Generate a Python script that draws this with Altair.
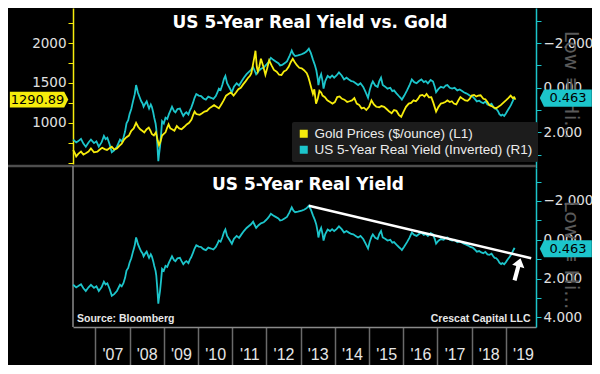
import altair as alt
import pandas as pd

# ---------------- data ----------------
yield_years = [
    2006.35, 2006.44, 2006.49, 2006.58, 2006.65, 2006.72, 2006.80, 2006.87, 2006.96, 2007.03,
    2007.10, 2007.18, 2007.25, 2007.30, 2007.35, 2007.42, 2007.48, 2007.55, 2007.63, 2007.72,
    2007.77, 2007.82, 2007.87, 2007.91, 2007.96, 2008.00, 2008.05, 2008.10, 2008.15, 2008.19,
    2008.22, 2008.24, 2008.30, 2008.34, 2008.38, 2008.41, 2008.46, 2008.50, 2008.54, 2008.57,
    2008.62, 2008.65, 2008.69, 2008.72, 2008.76, 2008.78, 2008.81, 2008.84, 2008.86, 2008.89,
    2008.92, 2008.95, 2009.00, 2009.05, 2009.10, 2009.15, 2009.20, 2009.24, 2009.30, 2009.34,
    2009.40, 2009.47, 2009.52, 2009.57, 2009.62, 2009.66, 2009.72, 2009.76, 2009.80, 2009.85,
    2009.90, 2009.95, 2010.02, 2010.09, 2010.16, 2010.23, 2010.30, 2010.38, 2010.45, 2010.52,
    2010.57, 2010.61, 2010.66, 2010.71, 2010.76, 2010.80, 2010.85, 2010.92, 2010.99, 2011.05,
    2011.13, 2011.20, 2011.27, 2011.34, 2011.42, 2011.48, 2011.55, 2011.61, 2011.66, 2011.70,
    2011.77, 2011.84, 2011.92, 2011.99, 2012.06, 2012.13, 2012.20, 2012.27, 2012.35, 2012.40,
    2012.46, 2012.53, 2012.60, 2012.67, 2012.74, 2012.79, 2012.84, 2012.92, 2013.03, 2013.10,
    2013.17, 2013.24, 2013.30, 2013.36, 2013.42, 2013.46, 2013.50, 2013.52, 2013.56, 2013.60,
    2013.64, 2013.67, 2013.72, 2013.79, 2013.86, 2013.92, 2013.98, 2014.05, 2014.12, 2014.20,
    2014.27, 2014.34, 2014.41, 2014.48, 2014.54, 2014.61, 2014.68, 2014.75, 2014.83, 2014.90,
    2014.97, 2015.02, 2015.07, 2015.11, 2015.18, 2015.25, 2015.30, 2015.35, 2015.40, 2015.47,
    2015.54, 2015.62, 2015.68, 2015.73, 2015.80, 2015.87, 2015.92, 2015.96, 2016.03, 2016.11,
    2016.18, 2016.25, 2016.32, 2016.39, 2016.46, 2016.53, 2016.60, 2016.66, 2016.72, 2016.80,
    2016.87, 2016.92, 2016.96, 2017.03, 2017.10, 2017.18, 2017.24, 2017.29, 2017.36, 2017.43,
    2017.50, 2017.58, 2017.65, 2017.72, 2017.77, 2017.84, 2017.90, 2017.96, 2018.03, 2018.09,
    2018.15, 2018.22, 2018.28, 2018.34, 2018.40, 2018.46, 2018.52, 2018.58, 2018.63, 2018.67,
    2018.72, 2018.77, 2018.81, 2018.86, 2018.90, 2018.95, 2019.00, 2019.05, 2019.10, 2019.15,
    2019.20, 2019.24, 2019.27,
]
yield_vals = [
    2.32, 2.45, 2.40, 2.29, 2.50, 2.64, 2.45, 2.32, 2.48, 2.40,
    2.64, 2.45, 2.16, 2.30, 2.24, 2.55, 2.89, 2.80, 2.64, 2.32,
    2.40, 2.24, 1.95, 1.59, 1.45, 1.18, 0.95, 0.61, 0.30, -0.12,
    0.05, 0.20, 0.45, 0.61, 0.70, 0.85, 0.70, 0.61, 0.80, 0.93,
    0.75, 0.85, 1.10, 1.34, 1.60, 1.83, 2.50, 3.29, 3.00, 2.64,
    2.10, 1.50, 1.60, 1.34, 1.40, 1.18, 1.00, 0.85, 1.05, 1.10,
    0.95, 0.93, 1.10, 1.26, 1.15, 1.10, 1.20, 1.02, 0.90, 0.69,
    0.45, 0.28, 0.35, 0.37, 0.48, 0.53, 0.40, 0.45, 0.50, 0.37,
    0.20, 0.04, 0.10, -0.12, -0.40, -0.53, -0.20, 0.00, 0.20, -0.05,
    -0.20, -0.10, -0.28, -0.45, -0.61, -0.70, -0.80, -0.93, -0.75, -0.61,
    -0.75, -0.85, -0.90, -1.02, -1.15, -1.34, -1.25, -1.18, -1.10, -1.00,
    -1.02, -1.10, -1.18, -1.40, -1.67, -1.50, -1.42, -1.45, -1.50, -1.55,
    -1.62, -1.75, -1.55, -1.26, -1.00, -0.77, -0.40, -0.12, -0.45, -0.61,
    -0.30, 0.04, -0.30, -0.53, -0.45, -0.55, -0.45, -0.55, -0.69, -0.55,
    -0.37, -0.45, -0.37, -0.30, -0.28, -0.20, -0.12, -0.20, -0.04, 0.20,
    0.45, 0.10, -0.15, -0.28, -0.10, -0.04, -0.30, -0.45, -0.12, -0.05,
    0.04, 0.00, 0.15, 0.12, 0.25, 0.37, 0.45, 0.53, 0.35, 0.12,
    -0.10, -0.37, -0.25, -0.20, -0.30, -0.37, -0.25, -0.30, -0.20, -0.35,
    -0.28, -0.05, 0.20, 0.05, -0.04, 0.00, -0.10, -0.12, 0.00, 0.04,
    0.00, 0.12, 0.08, 0.15, 0.20, 0.25, 0.30, 0.37, 0.40, 0.50,
    0.61, 0.58, 0.65, 0.69, 0.62, 0.75, 0.77, 0.72, 0.85, 0.93,
    0.95, 1.05, 1.18, 1.25, 1.20, 1.26, 1.15, 1.02, 0.90, 0.77,
    0.60, 0.45, 0.463,
]

gold_years = [
    2006.35, 2006.40, 2006.44, 2006.50, 2006.58, 2006.65, 2006.72, 2006.80, 2006.87, 2006.96,
    2007.06, 2007.13, 2007.20, 2007.27, 2007.34, 2007.41, 2007.48, 2007.55, 2007.63, 2007.70,
    2007.77, 2007.84, 2007.91, 2007.98, 2008.05, 2008.12, 2008.19, 2008.25, 2008.31, 2008.37,
    2008.43, 2008.50, 2008.56, 2008.61, 2008.65, 2008.71, 2008.77, 2008.82, 2008.86, 2008.90,
    2008.95, 2009.00, 2009.05, 2009.10, 2009.14, 2009.19, 2009.24, 2009.31, 2009.38, 2009.45,
    2009.52, 2009.60, 2009.67, 2009.74, 2009.81, 2009.86, 2009.90, 2009.95, 2010.05, 2010.12,
    2010.19, 2010.26, 2010.33, 2010.40, 2010.47, 2010.54, 2010.61, 2010.68, 2010.75, 2010.82,
    2010.89, 2010.96, 2011.04, 2011.11, 2011.18, 2011.25, 2011.32, 2011.39, 2011.46, 2011.52,
    2011.56, 2011.62, 2011.66, 2011.68, 2011.72, 2011.75, 2011.79, 2011.84, 2011.90, 2011.97,
    2012.02, 2012.08, 2012.15, 2012.22, 2012.30, 2012.37, 2012.44, 2012.51, 2012.58, 2012.65,
    2012.71, 2012.77, 2012.83, 2012.89, 2012.96, 2013.03, 2013.10, 2013.18, 2013.22, 2013.26,
    2013.31, 2013.36, 2013.40, 2013.45, 2013.50, 2013.55, 2013.60, 2013.64, 2013.71, 2013.78,
    2013.86, 2013.93, 2014.00, 2014.07, 2014.14, 2014.21, 2014.28, 2014.36, 2014.43, 2014.50,
    2014.57, 2014.64, 2014.71, 2014.78, 2014.85, 2014.92, 2015.00, 2015.07, 2015.14, 2015.21,
    2015.30, 2015.36, 2015.44, 2015.52, 2015.59, 2015.66, 2015.73, 2015.80, 2015.87, 2015.94,
    2016.01, 2016.08, 2016.16, 2016.23, 2016.30, 2016.37, 2016.43, 2016.49, 2016.56, 2016.62,
    2016.68, 2016.75, 2016.82, 2016.88, 2016.96, 2017.03, 2017.10, 2017.17, 2017.23, 2017.29,
    2017.36, 2017.42, 2017.48, 2017.55, 2017.61, 2017.67, 2017.74, 2017.81, 2017.88, 2017.94,
    2018.00, 2018.07, 2018.13, 2018.19, 2018.26, 2018.34, 2018.40, 2018.46, 2018.52, 2018.58,
    2018.64, 2018.71, 2018.78, 2018.85, 2018.92, 2019.00, 2019.07, 2019.14, 2019.20, 2019.24,
    2019.28,
]
gold_vals = [
    659, 620, 578, 610, 638, 600, 618, 640, 678, 630,
    638, 665, 687, 670, 659, 680, 699, 665, 678, 710,
    739, 790, 819, 840, 900, 930, 1000, 950, 919, 900,
    880, 920, 940, 900, 859, 840, 880, 780, 719, 760,
    840, 860, 880, 940, 980, 930, 919, 900, 960, 930,
    919, 950, 980, 1000, 1040, 1100, 1141, 1110, 1100, 1120,
    1141, 1150, 1181, 1200, 1221, 1200, 1181, 1230, 1281, 1340,
    1361, 1380, 1341, 1380, 1422, 1440, 1482, 1520, 1562, 1590,
    1623, 1760, 1850, 1904, 1700, 1643, 1700, 1804, 1720, 1603,
    1680, 1783, 1720, 1663, 1640, 1603, 1600, 1643, 1660, 1703,
    1760, 1804, 1760, 1723, 1690, 1683, 1660, 1623, 1580, 1522,
    1440, 1361, 1420, 1241, 1300, 1401, 1380, 1341, 1320, 1281,
    1260, 1241, 1260, 1322, 1330, 1301, 1290, 1261, 1270, 1281,
    1310, 1241, 1225, 1181, 1190, 1160, 1200, 1281, 1230, 1201,
    1195, 1210, 1201, 1170, 1141, 1120, 1160, 1150, 1100, 1075,
    1141, 1200, 1241, 1250, 1281, 1270, 1300, 1341, 1350, 1330,
    1361, 1320, 1322, 1250, 1141, 1200, 1241, 1250, 1261, 1281,
    1260, 1270, 1241, 1230, 1280, 1322, 1300, 1281, 1275, 1300,
    1341, 1350, 1330, 1341, 1345, 1301, 1295, 1260, 1221, 1210,
    1195, 1181, 1200, 1221, 1250, 1281, 1310, 1341, 1310, 1320,
    1290.89,
]

trend_years = [2013.24, 2019.74]
trend_vals = [-1.75, 0.95]
arrow_years = [2019.34]
arrow_vals = [1.52]

year_ticks = list(range(2007, 2020))
gold_ticks = [500, 750, 1000, 1250, 1500, 1750, 2000, 2250]
top_ticks = [-3, -2, -1, 0, 1, 2, 3]
bot_ticks = [-3, -2, -1, 0, 1, 2, 3, 4]

gold_label = "Gold Prices ($/ounce) (L1)"
yield_label = "US 5-Year Real Yield (Inverted) (R1)"
series_labels = [gold_label, yield_label]
title_top = "US 5-Year Real Yield vs. Gold"
title_bottom = "US 5-Year Real Yield"
source_left = "Source: Bloomberg"
source_right = "Crescat Capital LLC"
side_text = "Low \u2261 Hi..."

# ---------------- styling / layout ----------------
YELLOW = "#F6EC0C"
CYAN = "#1CC5CB"
W, H = 463, 319

XDOM = [2006.346, 2019.88]
GOLD_SCALE = alt.Scale(domain=[483, 2440], range=[156, 0], nice=False, zero=False)
TOP_SCALE = alt.Scale(domain=[-3.571, 3.594], range=[0, 160], nice=False, zero=False)
BOT_SCALE = alt.Scale(domain=[-3.701, 4.495], range=[160, 319], nice=False, zero=False)

gold_df = pd.DataFrame({"year": gold_years, "value": gold_vals})
yield_df = pd.DataFrame({"year": yield_years, "value": yield_vals})
trend_df = pd.DataFrame({"year": trend_years, "value": trend_vals})
arrow_df = pd.DataFrame({"year": arrow_years, "value": arrow_vals})
legend_df = pd.DataFrame({"series": series_labels})
gold_last = gold_df.tail(1)
yield_last = yield_df.tail(1)

x_enc = alt.X(
    "year:Q",
    scale=alt.Scale(domain=XDOM, nice=False, zero=False),
    axis=alt.Axis(
        values=year_ticks, title=None, grid=False,
        labelExpr="\"'\" + substring(toString(datum.value), 2, 4)",
        tickSize=39, tickColor="#6a6a6a", tickWidth=1.5,
        domainColor="#8a8a8a", domainWidth=1.5,
        labelOffset=17.1, labelPadding=-11.5, labelBaseline="middle",
        labelFlush=False, labelOverlap=False,
        labelFont="Liberation Sans", labelFontSize=16, labelColor="#e6e6e6",
    ),
)

ylab = dict(labelFont="DejaVu Sans", labelFontSize=13.5, labelColor="#e0e0e0",
            tickSize=5, labelPadding=2, grid=False, title=None, labelOverlap=False)

top_yield = alt.Chart(yield_df).mark_line(strokeWidth=1.8, color=CYAN).encode(
    x=x_enc,
    y=alt.Y("value:Q", scale=TOP_SCALE, axis=alt.Axis(
        orient="right", values=top_ticks,
        labelExpr="datum.value % 2 == 0 ? format(datum.value, '.3f') : ''",
        domainColor=CYAN, tickColor=CYAN, domainWidth=1.5, **ylab)),
)

gold_line = alt.Chart(gold_df).mark_line(strokeWidth=1.8, color=YELLOW).encode(
    x=x_enc,
    y=alt.Y("value:Q", scale=GOLD_SCALE, axis=alt.Axis(
        orient="left", values=gold_ticks,
        labelExpr="datum.value % 500 == 0 && datum.value >= 1000 ? datum.label : ''",
        format="d",
        domainColor=YELLOW, tickColor=YELLOW, domainWidth=1.5, **ylab)),
)

# legend carrier: filled squares placed outside the visible canvas
legend_layer = alt.Chart(legend_df).mark_square(size=64, filled=True, opacity=1).encode(
    x=alt.value(-3000), y=alt.value(-3000),
    color=alt.Color(
        "series:N",
        scale=alt.Scale(domain=series_labels, range=[YELLOW, CYAN]),
        legend=alt.Legend(
            title=None, orient="none", legendX=219, legendY=114,
            fillColor="#1c1c1c", padding=5, cornerRadius=2,
            labelFont="Liberation Sans", labelFontSize=13.5, labelColor="#ececec",
            symbolType="square", symbolSize=64, symbolStrokeWidth=0, symbolOpacity=1,
            rowPadding=1, labelOffset=4, labelLimit=400,
        ),
    ),
)

bot_yield = alt.Chart(yield_df).mark_line(strokeWidth=1.8, color=CYAN).encode(
    x=x_enc,
    y=alt.Y("value:Q", scale=BOT_SCALE, axis=alt.Axis(
        orient="right", values=bot_ticks,
        labelExpr="datum.value % 2 == 0 ? format(datum.value, '.3f') : ''",
        domainColor=CYAN, tickColor=CYAN, domainWidth=1.5, **ylab)),
)

trend = alt.Chart(trend_df).mark_line(strokeWidth=2.6, color="white").encode(
    x=x_enc, y=alt.Y("value:Q", scale=BOT_SCALE, axis=None),
)

arrow = alt.Chart(arrow_df).mark_point(
    shape="M0,-1L0.55,-0.25L0.18,-0.25L0.18,1L-0.18,1L-0.18,-0.25L-0.55,-0.25Z",
    size=529, angle=15, filled=True, color="white", opacity=1, strokeWidth=0,
).encode(x=x_enc, y=alt.Y("value:Q", scale=BOT_SCALE, axis=None))

# value tags
gold_tag = alt.Chart(gold_last).mark_point(
    shape="M-1,-0.27L0.86,-0.27L1,0L0.86,0.27L-1,0.27Z",
    size=3411, filled=True, color=YELLOW, opacity=1, strokeWidth=0,
).encode(x=alt.value(-33.9), y=alt.Y("value:Q", scale=GOLD_SCALE, axis=None))
gold_tag_text = alt.Chart(gold_last).mark_text(
    font="DejaVu Sans", fontSize=13, color="black", align="center", baseline="middle",
).encode(x=alt.value(-35.5), y=alt.Y("value:Q", scale=GOLD_SCALE, axis=None),
         text=alt.Text("value:Q", format=".2f"))

yield_tag_path = "M-1,0L-0.84,-0.33L1,-0.33L1,0.33L-0.84,0.33Z"
top_tag = alt.Chart(yield_last).mark_point(
    shape=yield_tag_path, size=2704, filled=True, color=CYAN, opacity=1, strokeWidth=0,
).encode(x=alt.value(492.8), y=alt.Y("value:Q", scale=TOP_SCALE, axis=None))
top_tag_text = alt.Chart(yield_last).mark_text(
    font="DejaVu Sans", fontSize=13, color="black", align="center", baseline="middle",
).encode(x=alt.value(495), y=alt.Y("value:Q", scale=TOP_SCALE, axis=None),
         text=alt.Text("value:Q", format=".3f"))
bot_tag = alt.Chart(yield_last).mark_point(
    shape=yield_tag_path, size=2704, filled=True, color=CYAN, opacity=1, strokeWidth=0,
).encode(x=alt.value(492.8), y=alt.Y("value:Q", scale=BOT_SCALE, axis=None))
bot_tag_text = alt.Chart(yield_last).mark_text(
    font="DejaVu Sans", fontSize=13, color="black", align="center", baseline="middle",
).encode(x=alt.value(495), y=alt.Y("value:Q", scale=BOT_SCALE, axis=None),
         text=alt.Text("value:Q", format=".3f"))


def label(txt, x, y, **kw):
    return alt.Chart(pd.DataFrame({"t": [txt]})).mark_text(**kw).encode(
        x=alt.value(x), y=alt.value(y), text="t:N")


one = pd.DataFrame({"a": [0]})
separator = alt.Chart(one).mark_rule(color="#4e4e4e", strokeWidth=2.5).encode(
    x=alt.value(-65), x2=alt.value(W), y=alt.value(158))
left_line = alt.Chart(one).mark_rule(color="#8a8a8a", strokeWidth=1.5).encode(
    x=alt.value(0), y=alt.value(158), y2=alt.value(H))

side_texts = [
    label(side_text, 497.5, 77, font="DejaVu Sans", fontSize=20, angle=90,
          color="#5a5a5a", align="center", baseline="middle"),
    label(side_text, 497.5, 247, font="DejaVu Sans", fontSize=20, angle=90,
          color="#5a5a5a", align="center", baseline="middle"),
]
texts = [
    label(title_top, 237, 14.5, font="DejaVu Sans", fontWeight="bold", fontSize=17,
          color="white", align="center", baseline="middle"),
    label(title_bottom, 235, 177, font="DejaVu Sans", fontWeight="bold", fontSize=17,
          color="white", align="center", baseline="middle"),
    label(source_left, 4, 311, font="Liberation Sans", fontWeight="bold", fontSize=10.5,
          color="#e8e8e8", align="left", baseline="middle"),
    label(source_right, 457.5, 311, font="Liberation Sans", fontWeight="bold", fontSize=10.5,
          color="#e8e8e8", align="right", baseline="middle"),
]

chart = alt.layer(
    separator, left_line, *side_texts,
    top_yield, gold_line, bot_yield, trend, arrow, legend_layer,
    gold_tag, gold_tag_text, top_tag, top_tag_text, bot_tag, bot_tag_text,
    *texts,
).resolve_scale(y="independent").properties(
    width=W, height=H, background="black",
    padding={"left": 65, "top": 0, "right": 56, "bottom": 38},
    autosize=alt.AutoSizeParams(type="none"),
).configure_view(stroke=None)

chart.save("out.html", embed_options={"renderer": "svg", "actions": False})
